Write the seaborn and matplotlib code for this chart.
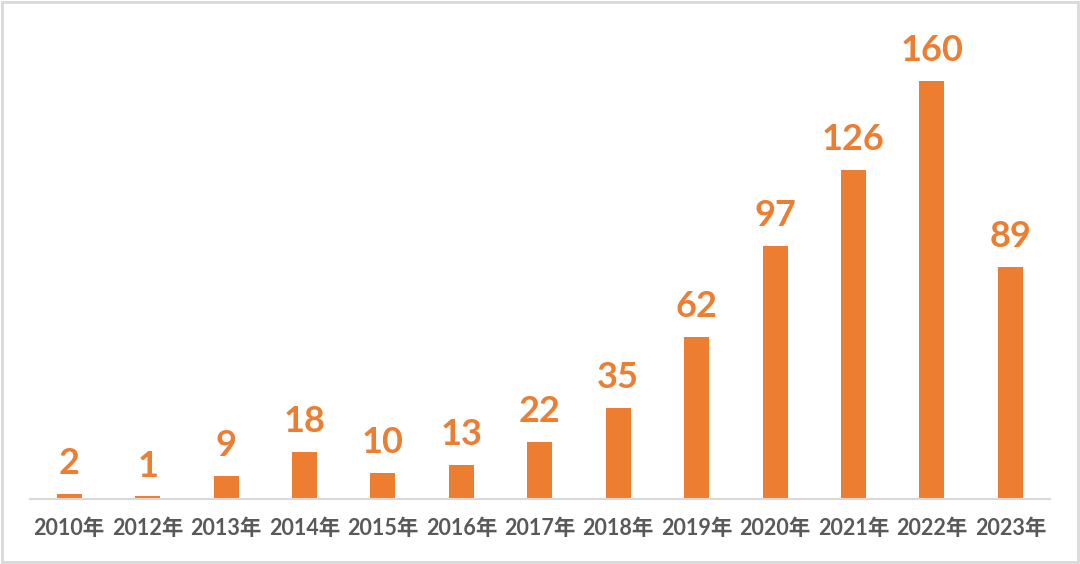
import pandas as pd
import matplotlib
matplotlib.use("Agg")
import matplotlib.pyplot as plt
import seaborn as sns
from matplotlib.patches import Rectangle

# data
years = ['2010年', '2012年', '2013年', '2014年', '2015年', '2016年', '2017年',
         '2018年', '2019年', '2020年', '2021年', '2022年', '2023年']
counts = [2, 1, 9, 18, 10, 13, 22, 35, 62, 97, 126, 160, 89]

df = pd.DataFrame({'year': years, 'count': counts})

sns.set_theme(style='white')
plt.rcParams['font.family'] = ['Lato', 'Noto Sans CJK SC', 'DejaVu Sans']

orange = '#ED7D31'

fig = plt.figure(figsize=(10.8, 5.64), dpi=100)
ax = fig.add_axes([0.0278, 0.1152, 0.944, 0.849])

sns.barplot(data=df, x='year', y='count', color=orange, saturation=1,
            width=0.32, linewidth=0, ax=ax)

# value labels
for container in ax.containers:
    ax.bar_label(container, padding=10, fontsize=26, fontweight='bold',
                 color=orange)

ax.set_ylim(0, 183.3)
ax.set_xlim(-0.5, len(years) - 0.5)
ax.set_xlabel('')
ax.set_ylabel('')
ax.set_yticks([])
for side in ['top', 'right', 'left']:
    ax.spines[side].set_visible(False)
ax.spines['bottom'].set_color('#D9D9D9')
ax.spines['bottom'].set_linewidth(1.5)
ax.tick_params(axis='x', length=0, pad=14)
for lbl in ax.get_xticklabels():
    lbl.set_fontsize(15.5)
    lbl.set_fontweight('bold')
    lbl.set_color('#595959')

# light grey frame around the whole picture
fig.patches.append(Rectangle((0.002, 0.003), 0.996, 0.994, transform=fig.transFigure,
                             fill=False, edgecolor='#D9D9D9', linewidth=2))

fig.savefig('out.png', dpi=100, facecolor='white')
